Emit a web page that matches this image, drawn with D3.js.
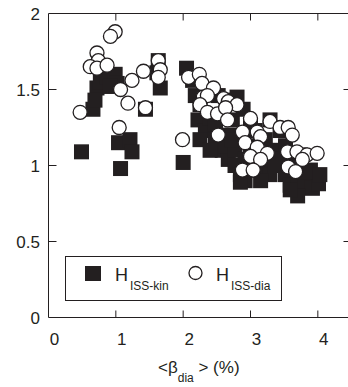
<!DOCTYPE html>
<html>
<head>
<meta charset="utf-8">
<script src="https://cdn.jsdelivr.net/npm/d3@7"></script>
<style>
  body { margin: 0; background: #fff; }
  svg { display: block; font-family: "Liberation Sans", Arial, sans-serif; }
</style>
</head>
<body>
<svg id="chart" width="348" height="387"></svg>
<script>
// H_ISS-kin (filled squares): [beta_dia %, H]
const kinX = [0.49, 1.07, 1.04, 1.21, 1.24, 0.66, 0.72, 0.77, 0.87, 0.99, 1.02, 0.92, 0.69, 1.44, 1.63, 1.66, 1.61, 2.00,
  2.05, 2.14, 2.18, 2.25, 2.22, 2.33, 2.40, 2.48, 2.58, 2.67, 2.77, 2.85, 2.92, 2.52, 2.67, 2.80, 2.73, 2.85, 3.00, 3.07,
  3.18, 3.29, 3.07, 3.22, 3.37, 3.47, 3.52, 3.59, 3.71, 3.81, 3.92, 4.01, 3.66, 3.74, 3.44, 3.29, 2.89, 3.00, 2.63, 3.15,
  3.70, 3.59, 2.94, 2.25, 2.40,
  2.48, 2.63, 2.77, 2.73, 2.92, 3.18, 3.29, 3.37, 3.52, 3.89, 2.85, 4.03, 3.81];
const kinY = [1.09, 0.98, 1.15, 1.17, 1.09, 1.37, 1.51, 1.55, 1.58, 1.60, 1.54, 1.52, 1.43, 1.37, 1.69, 1.51, 1.61, 1.02,
  1.64, 1.56, 1.46, 1.40, 1.30, 1.23, 1.31, 1.17, 1.10, 1.04, 1.00, 0.94, 0.90, 1.46, 1.43, 1.45, 1.30, 1.20, 1.13, 1.04,
  0.97, 0.94, 1.23, 1.17, 1.10, 1.04, 0.94, 0.87, 0.87, 0.90, 0.85, 0.88, 1.00, 1.07, 1.23, 1.30, 1.37, 1.27, 1.20, 0.90,
  0.80, 0.84, 0.97, 1.17, 1.10,
  1.27, 1.13, 1.10, 1.17, 1.04, 1.10, 1.04, 1.00, 1.13, 0.97, 0.89, 0.94, 0.96];

// H_ISS-dia (open circles)
const diaX = [0.47, 0.99, 0.92, 0.72, 0.74, 0.62, 0.72, 0.87, 1.07, 1.24, 1.18, 1.44, 1.41, 1.63, 1.66, 1.63, 1.05, 1.99,
  2.08, 2.24, 2.28, 2.45, 2.30, 2.36, 2.60, 2.67, 2.80, 2.25, 2.36, 2.51, 2.63, 2.66, 2.52, 3.00, 2.88, 3.10, 3.15, 2.92,
  3.10, 3.25, 3.00, 3.15, 2.88, 3.04, 3.29, 3.44, 3.56, 3.62, 3.55, 3.69, 3.84, 3.99, 3.77, 3.56, 3.67];
const diaY = [1.35, 1.88, 1.85, 1.74, 1.69, 1.65, 1.64, 1.66, 1.50, 1.56, 1.41, 1.38, 1.62, 1.69, 1.63, 1.58, 1.25, 1.17,
  1.58, 1.60, 1.54, 1.51, 1.45, 1.46, 1.44, 1.42, 1.40, 1.40, 1.35, 1.34, 1.38, 1.30, 1.20, 1.31, 1.22, 1.22, 1.19, 1.15,
  1.12, 1.08, 1.06, 1.04, 0.97, 0.97, 1.29, 1.25, 1.25, 1.20, 1.09, 1.09, 1.07, 1.08, 1.04, 0.99, 0.96];

const xTicks = [0, 1, 2, 3, 4];
const yTicks = [0, 0.5, 1, 1.5, 2];
const yTickLabels = ["0", "0.5", "1", "1.5", "2"];

const svg = d3.select("#chart");
const x = d3.scaleLinear().domain([0, 4.5]).range([48.5, 351.5]);
const y = d3.scaleLinear().domain([0, 2]).range([317.5, 13.5]);
const ink = "#231f20";

// markers
const squares = kinX.map((v, i) => ({ x: v, y: kinY[i] }));
const circles = diaX.map((v, i) => ({ x: v, y: diaY[i] }));
const sq = 15;

svg.append("g").selectAll("rect")
  .data(squares)
  .enter()
  .append("rect")
  .attr("x", d => x(d.x) - sq / 2)
  .attr("y", d => y(d.y) - sq / 2)
  .attr("width", sq)
  .attr("height", sq)
  .attr("fill", ink);

svg.append("g").selectAll("circle")
  .data(circles)
  .enter()
  .append("circle")
  .attr("cx", d => x(d.x))
  .attr("cy", d => y(d.y))
  .attr("r", 7)
  .attr("fill", "#fff")
  .attr("stroke", ink)
  .attr("stroke-width", 1.3);

// frame + inward ticks
const axisG = svg.append("g").attr("stroke", ink).attr("stroke-width", 1).attr("fill", "none");
axisG.append("line").attr("x1", x(0)).attr("x2", x(4.5)).attr("y1", y(0)).attr("y2", y(0));
axisG.append("line").attr("x1", x(0)).attr("x2", x(4.5)).attr("y1", y(2)).attr("y2", y(2));
axisG.append("line").attr("x1", x(0)).attr("x2", x(0)).attr("y1", y(0)).attr("y2", y(2));
axisG.append("line").attr("x1", x(4.5)).attr("x2", x(4.5)).attr("y1", y(0)).attr("y2", y(2));

xTicks.slice(1).forEach(t => {
  axisG.append("line").attr("x1", x(t)).attr("x2", x(t)).attr("y1", y(0)).attr("y2", y(0) - 7);
  axisG.append("line").attr("x1", x(t)).attr("x2", x(t)).attr("y1", y(2)).attr("y2", y(2) + 7);
});
yTicks.slice(1, 4).forEach(t => {
  axisG.append("line").attr("x1", x(0)).attr("x2", x(0) + 8).attr("y1", y(t)).attr("y2", y(t));
  axisG.append("line").attr("x1", x(4.5) - 8).attr("x2", x(4.5)).attr("y1", y(t)).attr("y2", y(t));
});

// tick labels
svg.append("g").selectAll("text")
  .data(xTicks)
  .enter()
  .append("text")
  .attr("x", d => x(d) + 6)
  .attr("y", 345)
  .attr("text-anchor", "middle")
  .attr("font-size", 17)
  .attr("fill", ink)
  .text(d => d);

svg.append("g").selectAll("text")
  .data(yTicks)
  .enter()
  .append("text")
  .attr("x", 40)
  .attr("y", d => y(d) + 6)
  .attr("text-anchor", "end")
  .attr("font-size", 17)
  .attr("fill", ink)
  .text((d, i) => yTickLabels[i]);

// x axis title
const xt = svg.append("text")
  .attr("x", 158)
  .attr("y", 373)
  .attr("font-size", 17)
  .attr("fill", ink);
xt.append("tspan").text("<β");
xt.append("tspan").attr("font-size", 12).attr("dy", 9).text("dia");
xt.append("tspan").attr("dy", -9).text(" > (%)");

// legend
svg.append("rect")
  .attr("x", 65.5).attr("y", 256.5)
  .attr("width", 216).attr("height", 44)
  .attr("fill", "#fff")
  .attr("stroke", ink)
  .attr("stroke-width", 1);

svg.append("rect")
  .attr("x", 85).attr("y", 266)
  .attr("width", 16).attr("height", 15)
  .attr("fill", ink);

svg.append("circle")
  .attr("cx", 195.5).attr("cy", 273)
  .attr("r", 6.5)
  .attr("fill", "#fff")
  .attr("stroke", ink)
  .attr("stroke-width", 1.3);

function legendLabel(x0, sub) {
  const t = svg.append("text")
    .attr("x", x0).attr("y", 281)
    .attr("font-size", 18)
    .attr("fill", ink);
  t.append("tspan").text("H");
  t.append("tspan").attr("font-size", 12).attr("dy", 9).attr("dx", 2).text(sub);
}
legendLabel(115, "ISS-kin");
legendLabel(216, "ISS-dia");
</script>
</body>
</html>
